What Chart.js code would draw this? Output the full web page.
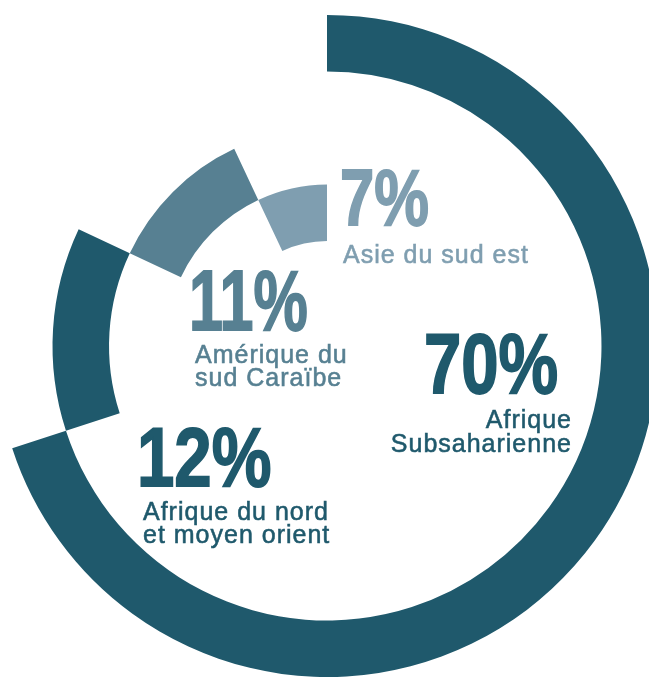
<!DOCTYPE html>
<html>
<head>
<meta charset="utf-8">
<script src="https://cdn.jsdelivr.net/npm/chart.js@4"></script>
<style>
  html, body { margin: 0; padding: 0; background: #fff; }
  #wrap { position: relative; width: 649px; height: 677px; overflow: hidden; }
  #wrap canvas { position: absolute; left: 0; top: 0; }
  .num { position: absolute; white-space: nowrap; font-family: "Liberation Sans", Arial, sans-serif; font-weight: bold; transform-origin: 0 0; }
  .lab { position: absolute; white-space: nowrap; font-family: "Liberation Sans", Arial, sans-serif; font-size: 25px; letter-spacing: 1px; -webkit-text-stroke: 0.55px currentColor; }
</style>
</head>
<body>
<div id="wrap">
  <canvas id="c" width="649" height="677"></canvas>
</div>
<script>
// ---- data ----
const categories = ['Afrique Subsaharienne', 'Afrique du nord et moyen orient', 'Amérique du sud Caraïbe', 'Asie du sud est'];
const shares = [70, 12, 11, 7];
const percentLabels = ['70%', '12%', '11%', '7%'];
const labelLines = [['Afrique', 'Subsaharienne'], ['Afrique du nord', 'et moyen orient'], ['Amérique du', 'sud Caraïbe'], ['Asie du sud est']];

// ---- styles ----
const colors = ['#1f596c', '#1f596c', '#578092', '#7f9eb0'];

// one ring per category; only that category's arc is painted
const datasets = shares.map((v, i) => ({
  label: categories[i],
  data: shares,
  backgroundColor: shares.map((_, j) => j === i ? colors[i] : 'rgba(0,0,0,0)'),
  borderWidth: 0,
  hoverOffset: 0
}));

new Chart(document.getElementById('c'), {
  type: 'doughnut',
  data: { labels: categories, datasets },
  options: {
    responsive: false,
    animation: false,
    events: [],
    radius: 331,
    cutout: '31.7%',
    layout: { padding: { left: 5, top: 15, right: 0, bottom: 0 } },
    plugins: { legend: { display: false }, tooltip: { enabled: false } }
  }
});

// ---- text (real DOM text) ----
const wrap = document.getElementById('wrap');
// number placements: [originX, baselineY, fontSize, scaleX]
const numPos = [[424, 393, 86, 0.78], [137, 486, 84, 0.80], [189, 330, 86, 0.71], [340, 226, 80, 0.77]];
numPos.forEach((p, i) => {
  const d = document.createElement('div');
  d.className = 'num';
  d.textContent = percentLabels[i];
  const F = p[2];
  d.style.fontSize = F + 'px';
  d.style.lineHeight = F + 'px';
  d.style.color = colors[i];
  d.style.webkitTextStroke = '1.8px ' + colors[i];
  d.style.left = p[0] + 'px';
  d.style.top = (p[1] - 0.8465 * F) + 'px';
  d.style.transform = 'scaleX(' + p[3] + ')';
  wrap.appendChild(d);
});
// label placements: [x, firstBaseline, lineHeight, align]
const labPos = [[572, 428, 24.3, 'right'], [143, 520, 22.5, 'left'], [195, 363, 23.5, 'left'], [343, 262.7, 24, 'left']];
labPos.forEach((p, i) => {
  const d = document.createElement('div');
  d.className = 'lab';
  d.innerHTML = labelLines[i].join('<br>');
  const L = p[2], F = 25;
  d.style.lineHeight = L + 'px';
  d.style.color = colors[i];
  d.style.textAlign = p[3];
  const top = p[1] - ((L - 1.117 * F) / 2 + 0.905 * F);
  d.style.top = top + 'px';
  if (p[3] === 'right') { d.style.right = (649 - p[0]) + 'px'; }
  else { d.style.left = p[0] + 'px'; }
  wrap.appendChild(d);
});
</script>
</body>
</html>
